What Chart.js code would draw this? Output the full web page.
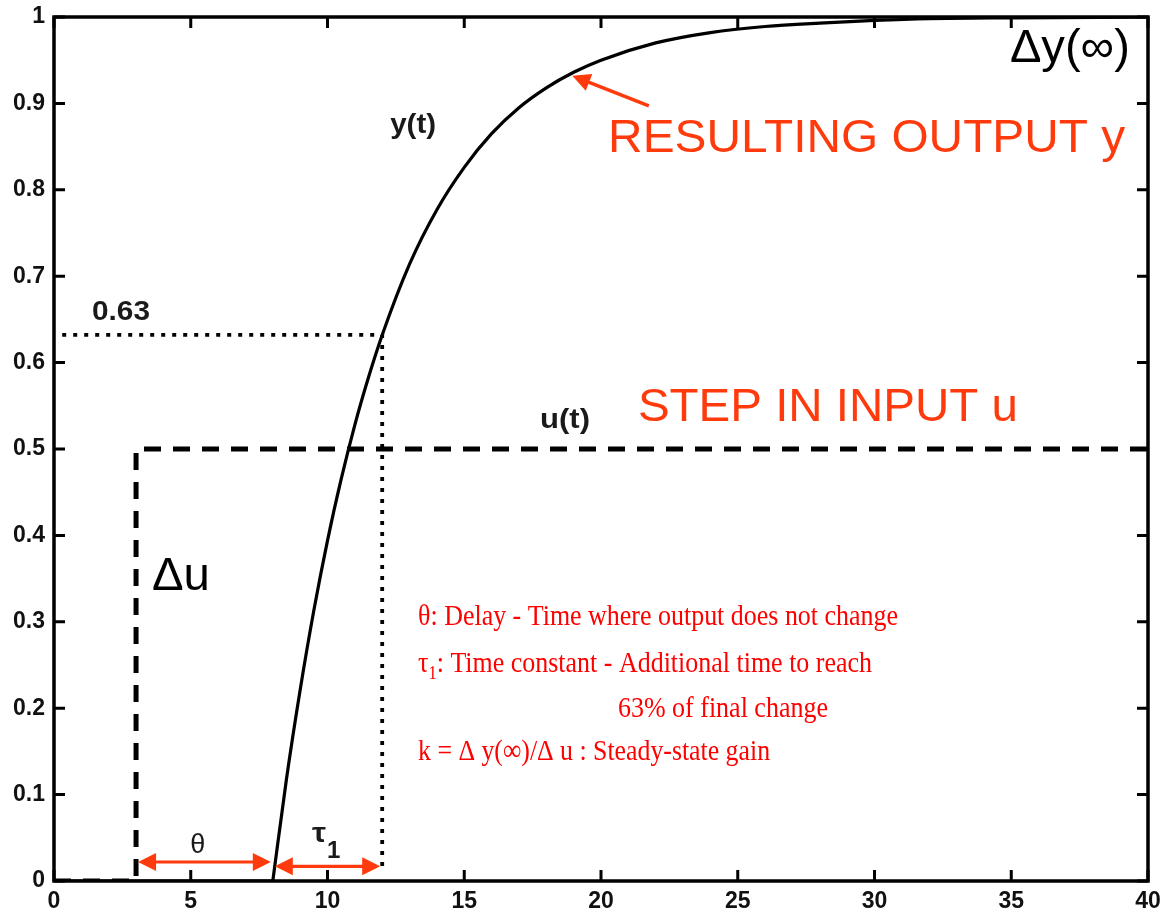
<!DOCTYPE html>
<html>
<head>
<meta charset="utf-8">
<script src="https://cdn.jsdelivr.net/npm/chart.js@4.4.1/dist/chart.umd.min.js"></script>
<style>
  html, body { margin: 0; padding: 0; background: #fff; }
  #wrap { width: 1172px; height: 923px; position: relative; }
</style>
</head>
<body>
<div id="wrap"><canvas id="stepChart"></canvas></div>
<script>
// output response y(t): flat part, then the rise
const flatT = [0, 8];
const flatY = [0, 0];
const riseT = [8, 8.5, 9, 9.5, 10, 10.5, 11, 11.5, 12, 13, 14, 15, 16, 17, 18, 19, 20, 22, 24, 26, 28, 30, 32, 35, 40];
const riseY = [0, 0.118, 0.221, 0.313, 0.394, 0.465, 0.528, 0.583, 0.632, 0.714, 0.777, 0.826, 0.865, 0.895, 0.918, 0.936, 0.950, 0.970, 0.982, 0.989, 0.993, 0.996, 0.998, 0.999, 1.0];

// input step u(t)
const stepT = [0, 3, 3, 40];
const stepU = [0, 0, 0.5, 0.5];

// 63% guide
const guideT = [0.3, 12, 12];
const guideY = [0.632, 0.632, 0.013];

const xTicks = [0, 5, 10, 15, 20, 25, 30, 35, 40];
const yTicks = [0, 0.1, 0.2, 0.3, 0.4, 0.5, 0.6, 0.7, 0.8, 0.9, 1];
const yTickLabels = ['0', '0.1', '0.2', '0.3', '0.4', '0.5', '0.6', '0.7', '0.8', '0.9', '1'];

// double arrows: [start, end, level]
const thetaSpan = [3, 8, 0.022];
const tauSpan = [8, 12, 0.017];
// pointer to the curve: tail then head
const outArrow = [21.75, 0.897, 18.95, 0.932];

const zip = (a, b) => a.map((v, i) => ({ x: v, y: b[i] }));

const ORANGE = '#ff3a0c';
const RED = '#ff0000';
const SANS = '"Liberation Sans", Arial, sans-serif';
const SERIF = '"Liberation Serif", "Times New Roman", serif';

function arrowHead(ctx, tx, ty, ang) {
  const len = 18, half = 9;
  ctx.beginPath();
  ctx.moveTo(tx, ty);
  ctx.lineTo(tx - len * Math.cos(ang) + half * Math.sin(ang), ty - len * Math.sin(ang) - half * Math.cos(ang));
  ctx.lineTo(tx - len * Math.cos(ang) - half * Math.sin(ang), ty - len * Math.sin(ang) + half * Math.cos(ang));
  ctx.closePath();
  ctx.fill();
}

function fitText(ctx, txt, x, y, w) {
  const m = ctx.measureText(txt).width;
  ctx.save();
  ctx.translate(x, y);
  ctx.scale(w / m, 1);
  ctx.fillText(txt, 0, 0);
  ctx.restore();
}

const annotations = {
  id: 'annotations',
  afterDatasetsDraw(chart) {
    const { ctx, chartArea: a, scales: { x, y } } = chart;
    const px = v => x.getPixelForValue(v);
    const py = v => y.getPixelForValue(v);
    ctx.save();

    // frame and inward ticks on all sides
    ctx.strokeStyle = '#000';
    ctx.lineWidth = 3.5;
    ctx.strokeRect(a.left, a.top, a.right - a.left, a.bottom - a.top);
    ctx.lineWidth = 3;
    ctx.beginPath();
    xTicks.forEach(v => {
      const p = px(v);
      ctx.moveTo(p, a.bottom); ctx.lineTo(p, a.bottom - 11);
      ctx.moveTo(p, a.top); ctx.lineTo(p, a.top + 11);
    });
    yTicks.forEach(v => {
      const p = py(v);
      ctx.moveTo(a.left, p); ctx.lineTo(a.left + 11, p);
      ctx.moveTo(a.right, p); ctx.lineTo(a.right - 11, p);
    });
    ctx.stroke();

    // red double arrows
    ctx.strokeStyle = ORANGE;
    ctx.fillStyle = ORANGE;
    ctx.lineWidth = 3.2;
    [thetaSpan, tauSpan].forEach(([s, e, lv]) => {
      const x1 = px(s) + 2, x2 = px(e) - 2, yy = py(lv);
      ctx.beginPath();
      ctx.moveTo(x1 + 12, yy); ctx.lineTo(x2 - 12, yy);
      ctx.stroke();
      arrowHead(ctx, x1, yy, Math.PI);
      arrowHead(ctx, x2, yy, 0);
    });
    // pointer arrow
    const tx = px(outArrow[0]), ty = py(outArrow[1]);
    const hx = px(outArrow[2]), hy = py(outArrow[3]);
    const ang = Math.atan2(hy - ty, hx - tx);
    ctx.lineWidth = 3.5;
    ctx.beginPath();
    ctx.moveTo(tx, ty);
    ctx.lineTo(hx - 12 * Math.cos(ang), hy - 12 * Math.sin(ang));
    ctx.stroke();
    arrowHead(ctx, hx, hy, ang);

    // big labels
    ctx.textBaseline = 'alphabetic';
    ctx.textAlign = 'left';
    ctx.font = '47px ' + SANS;
    ctx.fillStyle = ORANGE;
    fitText(ctx, 'RESULTING OUTPUT y', px(20.26), py(0.844), 517);
    fitText(ctx, 'STEP IN INPUT u', px(21.35), py(0.532), 380);
    ctx.fillStyle = '#000';
    fitText(ctx, 'Δy(∞)', px(34.95), py(0.948), 120);
    fitText(ctx, 'Δu', px(3.58), py(0.337), 58);

    // small bold curve labels
    ctx.fillStyle = '#1a1a1a';
    ctx.font = 'bold 27px ' + SANS;
    fitText(ctx, 'y(t)', px(12.29), py(0.866), 46);
    fitText(ctx, 'u(t)', px(17.77), py(0.524), 50);
    fitText(ctx, '0.63', px(1.39), py(0.649), 58);
    ctx.font = '27px ' + SANS;
    ctx.textAlign = 'center';
    ctx.fillText('θ', px(5.26), py(0.032));
    ctx.textAlign = 'left';
    ctx.font = 'bold 28px ' + SANS;
    fitText(ctx, 'τ', px(9.43), py(0.045), 14);
    ctx.font = 'bold 24px ' + SANS;
    ctx.fillText('1', px(9.43) + 15, py(0.027));

    // definitions block
    ctx.fillStyle = RED;
    ctx.font = '30px ' + SERIF;
    const lx = px(13.31);
    fitText(ctx, 'θ: Delay - Time where output does not change', lx, py(0.296), 480);
    fitText(ctx, '63% of final change', px(20.62), py(0.190), 210);
    fitText(ctx, 'k = Δ y(∞)/Δ u : Steady-state gain', lx, py(0.140), 352);
    // τ1 line with subscript
    const rest = ': Time constant - Additional time to reach';
    const wTau = ctx.measureText('τ').width;
    const wRest = ctx.measureText(rest).width;
    ctx.font = '19px ' + SERIF;
    const wOne = ctx.measureText('1').width;
    const k = 454 / (wTau + wOne + wRest);
    ctx.translate(lx, py(0.242));
    ctx.scale(k, 1);
    ctx.font = '30px ' + SERIF;
    ctx.fillText('τ', 0, 0);
    ctx.font = '19px ' + SERIF;
    ctx.fillText('1', wTau, 7);
    ctx.font = '30px ' + SERIF;
    ctx.fillText(rest, wTau + wOne, 0);

    ctx.restore();
  }
};

const tickFont = { family: SANS, size: 23, weight: 'bold' };

new Chart(document.getElementById('stepChart'), {
  type: 'line',
  data: {
    datasets: [
      {
        label: 'u(t)',
        data: zip(stepT, stepU),
        borderColor: '#000',
        borderWidth: 5,
        borderDash: [17, 12],
        pointRadius: 0,
        tension: 0
      },
      {
        label: '0.63 guide',
        data: zip(guideT, guideY),
        borderColor: '#000',
        borderWidth: 3.8,
        borderDash: [4, 7],
        pointRadius: 0,
        tension: 0
      },
      {
        label: 'y(t) flat',
        data: zip(flatT, flatY),
        borderColor: '#000',
        borderWidth: 3.2,
        pointRadius: 0,
        tension: 0
      },
      {
        label: 'y(t)',
        data: zip(riseT, riseY),
        borderColor: '#000',
        borderWidth: 3.2,
        pointRadius: 0,
        cubicInterpolationMode: 'monotone'
      }
    ]
  },
  options: {
    responsive: true,
    maintainAspectRatio: false,
    animation: false,
    layout: { padding: { top: 17, right: 24, left: 0, bottom: 0 } },
    plugins: { legend: { display: false }, tooltip: { enabled: false } },
    scales: {
      x: {
        type: 'linear',
        min: 0,
        max: 40,
        afterBuildTicks: s => { s.ticks = xTicks.map(v => ({ value: v })); },
        afterFit: s => { s.height = 42; s.paddingLeft = 0; s.paddingRight = 0; },
        grid: { display: false, drawTicks: false },
        border: { display: false },
        ticks: { color: '#111', font: tickFont, padding: 7, maxRotation: 0, callback: v => String(v) }
      },
      y: {
        min: 0,
        max: 1,
        afterBuildTicks: s => { s.ticks = yTicks.map(v => ({ value: v })); },
        afterFit: s => { s.width = 54; s.paddingTop = 0; s.paddingBottom = 0; },
        grid: { display: false, drawTicks: false },
        border: { display: false },
        ticks: {
          color: '#111', font: tickFont, padding: 9,
          callback: (v) => yTickLabels[yTicks.findIndex(t => Math.abs(t - v) < 1e-6)]
        }
      }
    }
  },
  plugins: [annotations]
});
</script>
</body>
</html>
